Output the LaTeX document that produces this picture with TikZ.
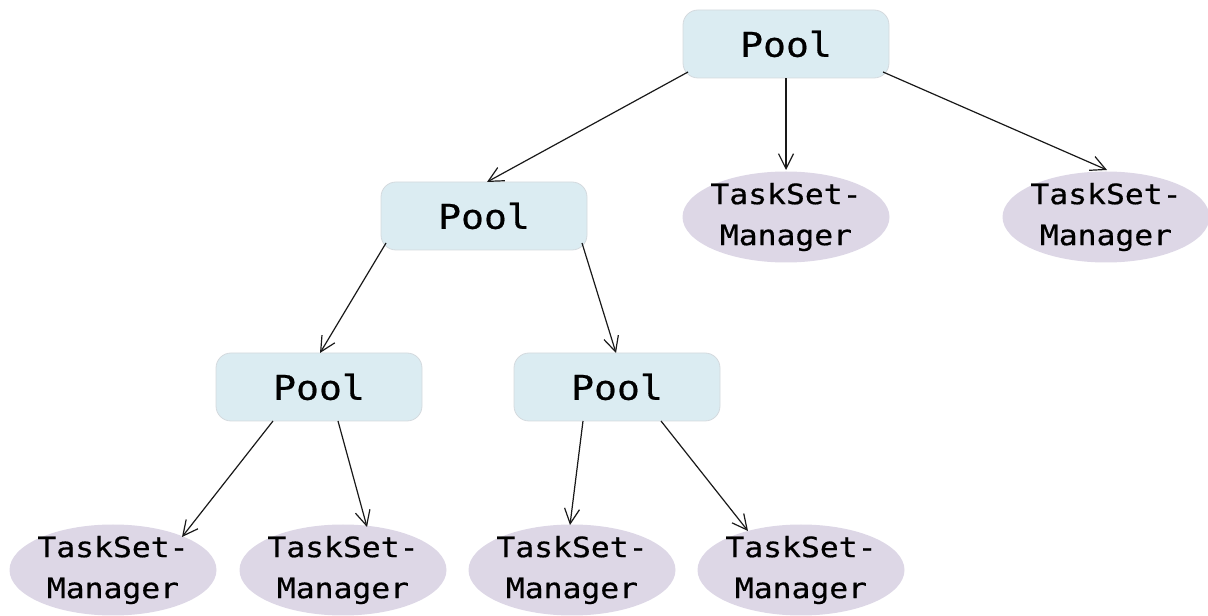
\documentclass[tikz,border=0pt]{standalone}
\usepackage{fontspec}
\newfontfamily\diagmono[FakeStretch=1.12,FakeBold=0.6]{DejaVu Sans Mono}
\usetikzlibrary{arrows.meta,calc,shapes.geometric}
\definecolor{poolfill}{RGB}{219,236,242}
\definecolor{poolline}{RGB}{212,218,222}
\definecolor{tsmfill}{RGB}{221,215,230}
\tikzset{
  poolbox/.style={rectangle, rounded corners=15pt, draw=poolline, line width=0.8pt, fill=poolfill,
    minimum width=206pt, minimum height=68pt, inner sep=0pt,
    font=\diagmono\fontsize{34pt}{40pt}\selectfont},
  tsmnode/.style={ellipse, fill=tsmfill, draw=none, minimum width=207pt, minimum height=91pt,
    inner xsep=-6pt, inner ysep=-5pt, align=center, font=\diagmono\fontsize{28pt}{41pt}\selectfont},
  conn/.style={draw=black!90, line width=1.2pt, -{Straight Barb[length=15pt,width=15pt,line width=1.2pt]}}
}
\begin{document}
\begin{tikzpicture}[x=1pt,y=1pt]
\useasboundingbox (0,0) rectangle (1208,616);
\node[poolbox] (P1) at (786,572) {Pool};
\node[poolbox] (P2) at (484,400) {Pool};
\node[poolbox] (P3) at (319,229) {Pool};
\node[poolbox] (P4) at (617,229) {Pool};
\node[tsmnode] (T1) at (786,399) {TaskSet-\\Manager};
\node[tsmnode] (T2) at (1106,399) {TaskSet-\\Manager};
\node[tsmnode] (T3) at (113,46) {TaskSet-\\Manager};
\node[tsmnode] (T4) at (343,46) {TaskSet-\\Manager};
\node[tsmnode] (T5) at (572,46) {TaskSet-\\Manager};
\node[tsmnode] (T6) at (801,46) {TaskSet-\\Manager};
\draw[conn] ($(P1.center)+(-98,-28)$) -- ($(P2.center)+(3,34)$);
\draw[conn] (P1.south) -- ($(T1.center)+(0,47)$);
\draw[conn] ($(P1.center)+(97,-28)$) -- ($(T2.center)+(1,47)$);
\draw[conn] ($(P2.center)+(-98,-27)$) -- ($(P3.center)+(1,34)$);
\draw[conn] ($(P2.center)+(98,-27)$) -- ($(P4.center)+(-1,34)$);
\draw[conn] ($(P3.center)+(-46,-34)$) -- ($(T3.center)+(69,33)$);
\draw[conn] ($(P3.center)+(19,-34)$) -- ($(T4.center)+(24,43)$);
\draw[conn] ($(P4.center)+(-34,-34)$) -- ($(T5.center)+(-2,45)$);
\draw[conn] ($(P4.center)+(44,-34)$) -- ($(T6.center)+(-53,39)$);
\end{tikzpicture}
\end{document}
